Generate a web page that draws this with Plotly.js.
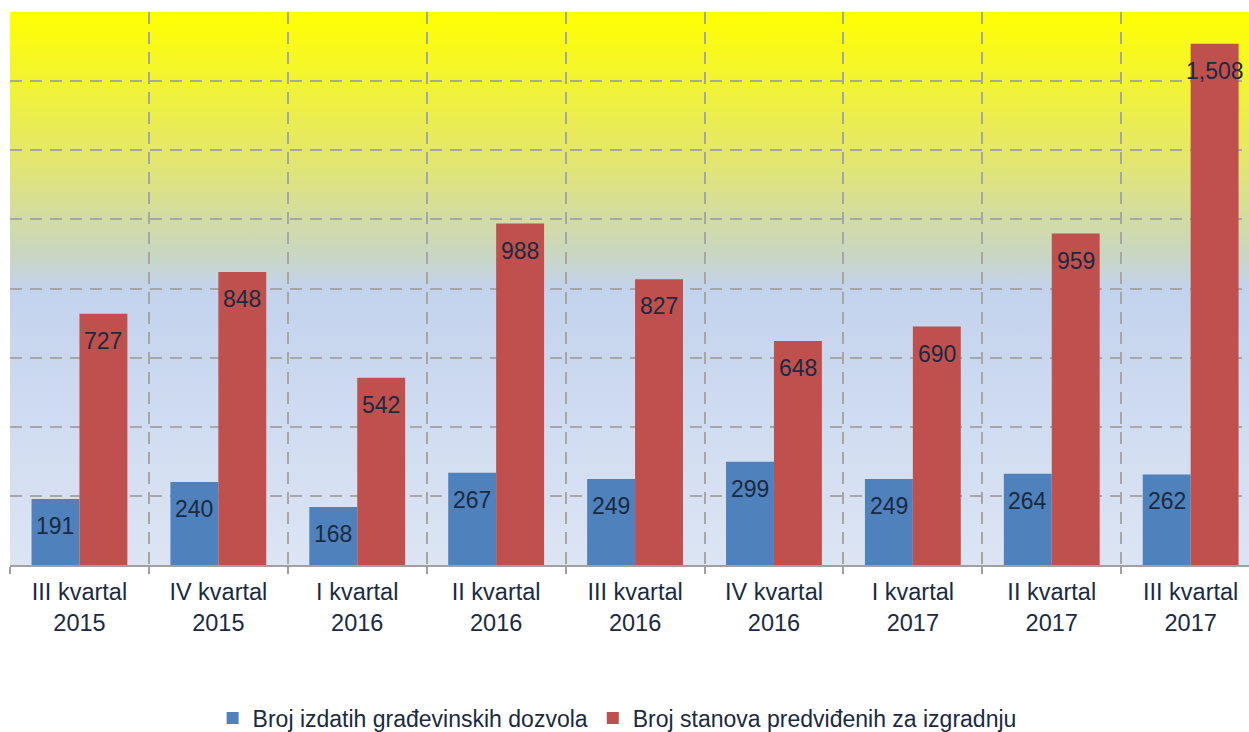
<!DOCTYPE html>
<html>
<head>
<meta charset="utf-8">
<script src="https://cdn.plot.ly/plotly-3.0.1.min.js"></script>
<style>
  html, body { margin: 0; padding: 0; background: #ffffff; }
  #chart { width: 1249px; height: 732px; }
</style>
</head>
<body>
<div id="chart"></div>
<script>
const categories = [
  "III kvartal<br>2015", "IV kvartal<br>2015", "I kvartal<br>2016",
  "II kvartal<br>2016", "III kvartal<br>2016", "IV kvartal<br>2016",
  "I kvartal<br>2017", "II kvartal<br>2017", "III kvartal<br>2017"
];
const permits = [191, 240, 168, 267, 249, 299, 249, 264, 262];
const flats = [727, 848, 542, 988, 827, 648, 690, 959, 1508];
const seriesNames = ["Broj izdatih građevinskih dozvola", "Broj stanova predviđenih za izgradnju"];

const BLUE = "#4f81bd";
const RED = "#c0504d";
const TEXT = "#1b2a41";
const FONT = "Liberation Sans, Arial, sans-serif";

const gradSvg =
  '<svg xmlns="http://www.w3.org/2000/svg" width="100" height="100" preserveAspectRatio="none">' +
  '<defs><linearGradient id="g" x1="0" y1="0" x2="0" y2="1">' +
  '<stop offset="0" stop-color="#ffff00"/>' +
  '<stop offset="0.25" stop-color="#e5e866"/>' +
  '<stop offset="0.44" stop-color="#c9d6c3"/>' +
  '<stop offset="0.5" stop-color="#c3d3ed"/>' +
  '<stop offset="1" stop-color="#dde5f4"/>' +
  '</linearGradient></defs><rect width="100" height="100" fill="url(#g)"/></svg>';
const gradUri = "data:image/svg+xml;charset=utf-8," + encodeURIComponent(gradSvg);

const traces = [
  { type: "bar", name: seriesNames[0], x: categories, y: permits,
    marker: { color: BLUE }, hoverinfo: "x+y" },
  { type: "bar", name: seriesNames[1], x: categories, y: flats,
    marker: { color: RED }, hoverinfo: "x+y" }
];

const fmt = v => v.toLocaleString("en-US");
const annotations = [];
permits.forEach((v, i) => annotations.push({
  x: categories[i], y: v, xref: "x", yref: "y", text: fmt(v), showarrow: false,
  xshift: -24, yshift: -27, font: { family: FONT, size: 23, color: TEXT }
}));
flats.forEach((v, i) => annotations.push({
  x: categories[i], y: v, xref: "x", yref: "y", text: fmt(v), showarrow: false,
  xshift: 24, yshift: -27, font: { family: FONT, size: 23, color: TEXT }
}));

const layout = {
  width: 1249, height: 732,
  margin: { l: 10, r: 0, t: 12, b: 167, autoexpand: false },
  paper_bgcolor: "#ffffff",
  plot_bgcolor: "rgba(0,0,0,0)",
  barmode: "group",
  bargap: 0.31,
  bargroupgap: 0,
  font: { family: FONT, color: TEXT },
  images: [{
    source: gradUri, xref: "paper", yref: "paper", x: 0, y: 1,
    sizex: 1, sizey: 1, xanchor: "left", yanchor: "top",
    sizing: "stretch", layer: "below"
  }],
  xaxis: {
    type: "category",
    range: [-0.5, 8.42],
    tickson: "boundaries",
    ticks: "outside", ticklen: 7, tickwidth: 2, tickcolor: "#a0a0a0",
    showline: true, linecolor: "#a0a0a0", linewidth: 2,
    showgrid: true, gridcolor: "#a6a6a6", gridwidth: 2, griddash: "12px,8px",
    tickfont: { family: FONT, size: 23.5, color: TEXT },
    ticklabelstandoff: 5,
    automargin: false,
    fixedrange: true
  },
  yaxis: {
    range: [0, 1600],
    dtick: 200, tick0: 0,
    showticklabels: false, ticks: "",
    showgrid: true, gridcolor: "#a6a6a6", gridwidth: 2, griddash: "12px,8px",
    zeroline: false, showline: false,
    automargin: false,
    fixedrange: true
  },
  showlegend: true,
  legend: {
    orientation: "h", x: 0.49, xanchor: "center",
    yref: "container", y: 0.019, yanchor: "middle",
    font: { family: FONT, size: 23, color: TEXT },
    bgcolor: "rgba(0,0,0,0)", itemclick: false, itemdoubleclick: false
  },
  annotations: annotations
};

Plotly.newPlot("chart", traces, layout, { displayModeBar: false, staticPlot: true });
</script>
</body>
</html>
